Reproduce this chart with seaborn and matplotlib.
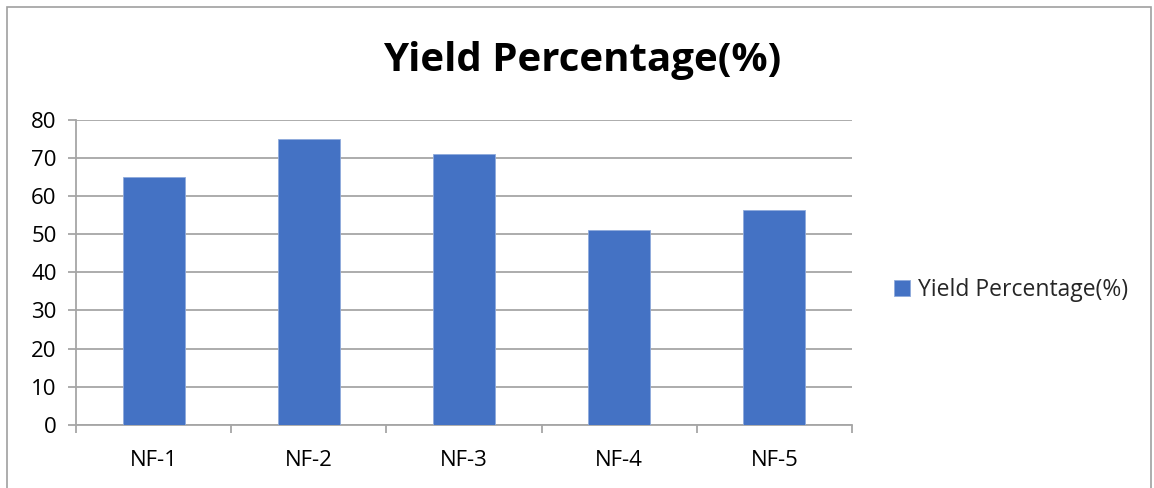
import matplotlib
matplotlib.use("Agg")
import matplotlib.pyplot as plt
from matplotlib.patches import Rectangle
import seaborn as sns
import pandas as pd

categories = ["NF-1", "NF-2", "NF-3", "NF-4", "NF-5"]
yield_pct = [65, 75, 71, 51, 56.3]
series_name = "Yield Percentage(%)"
y_ticks = [0, 10, 20, 30, 40, 50, 60, 70, 80]

df = pd.DataFrame({"Formulation": categories, series_name: yield_pct})

sns.set_theme(style="white")
plt.rcParams["font.family"] = ["Open Sans", "DejaVu Sans"]

W, H, DPI = 1154, 488, 100
fig = plt.figure(figsize=(W / DPI, H / DPI), dpi=DPI)
ax = fig.add_axes([76 / W, 1 - 425 / H, (852 - 76) / W, (425 - 119.5) / H])

bar_color = "#4472C4"
grid_color = "#A6A6A6"

sns.barplot(data=df, x="Formulation", y=series_name, color=bar_color,
            width=0.4, saturation=1, ax=ax, zorder=3,
            edgecolor="#8FAADC", linewidth=0.6, label=series_name, legend=False)
if ax.get_legend() is not None:
    ax.get_legend().remove()

ax.set_ylim(0, 80)
ax.set_xlim(-0.5, len(categories) - 0.5)
ax.set_yticks(y_ticks)
ax.set_xlabel("")
ax.set_ylabel("")
ax.yaxis.grid(True, color=grid_color, linewidth=1.3, zorder=0)
ax.set_axisbelow(True)

for side in ["top", "right"]:
    ax.spines[side].set_visible(False)
for side in ["left", "bottom"]:
    ax.spines[side].set_color(grid_color)
    ax.spines[side].set_linewidth(1.3)

# Category boundary tick marks on the x axis, labels centred between them
ax.set_xticks([i - 0.5 for i in range(len(categories) + 1)], minor=True)
ax.set_xticks(range(len(categories)))
ax.set_xticklabels(categories)
ax.tick_params(axis="x", which="major", bottom=True, length=0, pad=18,
               labelsize=16, colors="black")
ax.tick_params(axis="x", which="minor", bottom=True, length=6, width=1.3,
               color=grid_color, direction="out")
ax.tick_params(axis="y", which="major", left=True, length=6, width=1.3,
               color=grid_color, pad=8, labelsize=16, labelcolor="black",
               direction="out")

fig.text(582 / W, 1 - 60 / H, "Yield Percentage(%)", ha="center", va="center",
         fontsize=29, fontweight="bold", color="black")

handles, labels = ax.get_legend_handles_labels()
fig.legend(handles[:1], labels[:1], loc="center left",
           bbox_to_anchor=(894 / W, 1 - 290 / H),
           frameon=False, fontsize=16.5, handlelength=0.7, handleheight=0.7,
           handletextpad=0.35, borderaxespad=0, borderpad=0)

# Chart area border
fig.patches.append(Rectangle((7 / W, -0.01), 1144 / W, 1 - 7 / H + 0.01,
                             transform=fig.transFigure, fill=False,
                             edgecolor="#A0A0A0", linewidth=1.2))

fig.savefig("out.png", dpi=DPI, facecolor="white")
